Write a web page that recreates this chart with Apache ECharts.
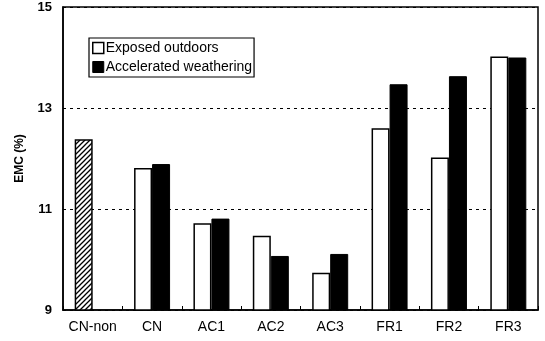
<!DOCTYPE html>
<html>
<head>
<meta charset="utf-8">
<script src="https://cdn.jsdelivr.net/npm/echarts@6/dist/echarts.min.js"></script>
<style>html,body{margin:0;padding:0;background:#fff}#c{width:545px;height:341px}</style>
</head>
<body>
<div id="c"></div>
<script>
const categories = ['CN-non', 'CN', 'AC1', 'AC2', 'AC3', 'FR1', 'FR2', 'FR3'];
const exposed = [12.38, 11.81, 10.72, 10.47, 9.74, 12.60, 12.02, 14.02];
const accelerated = [null, 11.89, 10.81, 10.07, 10.11, 13.47, 13.63, 14.00];
const yTicks = [9, 11, 13, 15];

// hatch pattern
const pc = document.createElement('canvas');
pc.width = 5; pc.height = 5;
const g = pc.getContext('2d');
g.fillStyle = '#fff'; g.fillRect(0, 0, 5, 5);
g.strokeStyle = '#000'; g.lineWidth = 1.3;
g.beginPath();
g.moveTo(-1, 6); g.lineTo(6, -1);
g.moveTo(-1, 1); g.lineTo(1, -1);
g.moveTo(4, 6); g.lineTo(6, 4);
g.stroke();

const font = 'Liberation Sans, Arial, sans-serif';
const exposedData = exposed.map((v, i) => i === 0
  ? { value: v, itemStyle: { color: { image: pc, repeat: 'repeat' }, borderColor: '#000', borderWidth: 1.5 } }
  : v);

const chart = echarts.init(document.getElementById('c'), null, { renderer: 'canvas' });
chart.setOption({
  animation: false,
  backgroundColor: '#fff',
  grid: { left: 63, right: 7, top: 7, bottom: 31, show: true, borderColor: '#000', borderWidth: 1.5, backgroundColor: 'transparent' },
  legend: {
    orient: 'vertical', left: 89, top: 38,
    itemWidth: 11, itemHeight: 11, itemGap: 5,
    padding: [3, 2, 3, 3],
    borderColor: '#000', borderWidth: 1.2,
    textStyle: { fontFamily: font, fontSize: 14, color: '#000', padding: [0, 0, 0, -3] },
    data: [
      { name: 'Exposed outdoors', icon: 'rect', itemStyle: { color: '#fff', borderColor: '#000', borderWidth: 1.5 } },
      { name: 'Accelerated weathering', icon: 'rect', itemStyle: { color: '#000', borderColor: '#000', borderWidth: 1 } }
    ]
  },
  xAxis: {
    type: 'category', data: categories,
    axisLine: { lineStyle: { color: '#000', width: 1.5 } },
    axisTick: { show: true, inside: true, length: 4, lineStyle: { color: '#000' } },
    axisLabel: { fontFamily: font, fontSize: 14, color: '#000', margin: 10, interval: 0 }
  },
  yAxis: {
    type: 'value', min: yTicks[0], max: yTicks[yTicks.length - 1], interval: 2,
    name: 'EMC (%)', nameLocation: 'middle', nameGap: 37, nameRotate: 90,
    nameTextStyle: { fontFamily: font, fontSize: 12, fontWeight: 'bold', color: '#000' },
    axisLine: { show: true, lineStyle: { color: '#000', width: 1.5 } },
    axisTick: { show: false },
    axisLabel: { fontFamily: font, fontSize: 13, fontWeight: 'bold', color: '#000', margin: 11 },
    splitLine: { show: true, lineStyle: { color: '#000', type: [3, 4], width: 1 } }
  },
  series: [
    { name: 'Exposed outdoors', type: 'bar', data: exposedData, barWidth: 18, barGap: '0%',
      itemStyle: { color: '#fff', borderColor: '#000', borderWidth: 1.5 } },
    { name: 'Accelerated weathering', type: 'bar', data: accelerated, barWidth: 18,
      itemStyle: { color: '#000', borderColor: '#000', borderWidth: 1 } }
  ]
});
</script>
</body>
</html>
